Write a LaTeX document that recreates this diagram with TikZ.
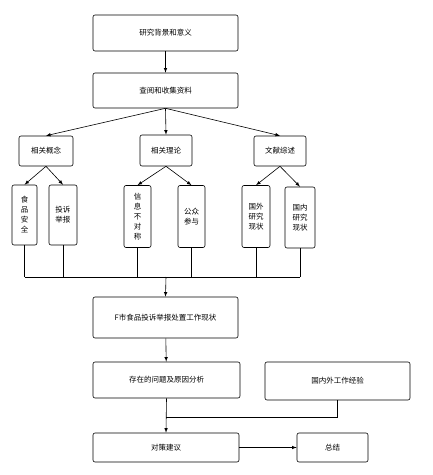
\documentclass[tikz,border=0pt]{standalone}
\usepackage{fontspec}
\setmainfont{Noto Sans CJK SC}
\begin{document}
\begin{tikzpicture}[x=1pt,y=-1pt,line width=0.6pt,
    box/.style={draw,rounded corners=2pt,inner sep=1pt,align=center,
      font=\fontsize{7.5}{10}\selectfont},
    wide/.style={box,minimum width=145pt,minimum height=36pt},
    tall/.style={box,minimum width=27pt,minimum height=62pt}]
  \useasboundingbox (0,0) rectangle (433,475);

  \node[wide] (bj) at (165.5,33) {研究背景和意义};
  \node[wide,minimum height=35pt] (cy) at (165.5,90.5) {查阅和收集资料};

  \node[box,minimum width=54pt,minimum height=30pt] (gn) at (46,151) {相关概念};
  \node[box,minimum width=52pt,minimum height=31pt] (ll) at (166,150.5) {相关理论};
  \node[box,minimum width=52pt,minimum height=30pt] (ws) at (280,151) {文献综述};

  \node[tall,minimum width=25pt,minimum height=60pt] (sp) at (24.5,215) {食\\品\\安\\全};
  \node[tall,minimum width=28pt,minimum height=60pt] (ts) at (63,215) {投诉\\举报};
  \node[tall] (xx) at (137.5,216.5) {信\\息\\不\\对\\称};
  \node[tall] (gz) at (191.5,216.5) {公众\\参与};
  \node[tall,minimum width=28pt] (gw) at (256,216.5) {国外\\研究\\现状};
  \node[tall,minimum width=30pt,minimum height=61pt] (gd) at (300,217.5) {国内\\研究\\现状};

  \node[wide,minimum height=41pt] (xz) at (165.5,317.5) {F市食品投诉举报处置工作现状};
  \node[wide,minimum width=147pt] (wt) at (166.5,380) {存在的问题及原因分析};
  \node[wide,minimum height=38pt] (jy) at (337.5,381) {国内外工作经验};
  \node[wide,minimum width=146pt,minimum height=29pt] (dc) at (166,447.5) {对策建议};
  \node[box,minimum width=71pt,minimum height=29pt] (zj) at (332.5,447.5) {总结};

  \coordinate (bus) at (166,277);
  \coordinate (hb) at (166,417);

  \draw[-latex] (bj) -- (cy);
  \draw[-latex] (cy.south) -- (gn.north);
  \draw[-latex] (cy.south) -- (ll.north);
  \draw[-latex] (cy.south) -- (ws.north);
  \draw[-latex] (gn.south) -- (sp.north);
  \draw[-latex] (gn.south) -- (ts.north);
  \draw[-latex] (ll.south) -- (xx.north);
  \draw[-latex] (ll.south) -- (gz.north);
  \draw[-latex] (ws.south) -- (gw.north);
  \draw[-latex] (ws.south) -- (gd.north);

  \foreach \n in {sp,ts,xx,gz,gw,gd}
    \draw (\n.south) -- (\n.south |- bus);
  \draw (sp.south |- bus) -- (gd.south |- bus);
  \draw[-latex] (bus) -- (xz.north);
  \draw[-latex] (xz) -- (wt);
  \draw (jy.south) |- (hb);
  \draw[-latex] (wt.south) -- (dc.north);
  \draw[-latex] (dc) -- (zj);
\end{tikzpicture}
\end{document}
